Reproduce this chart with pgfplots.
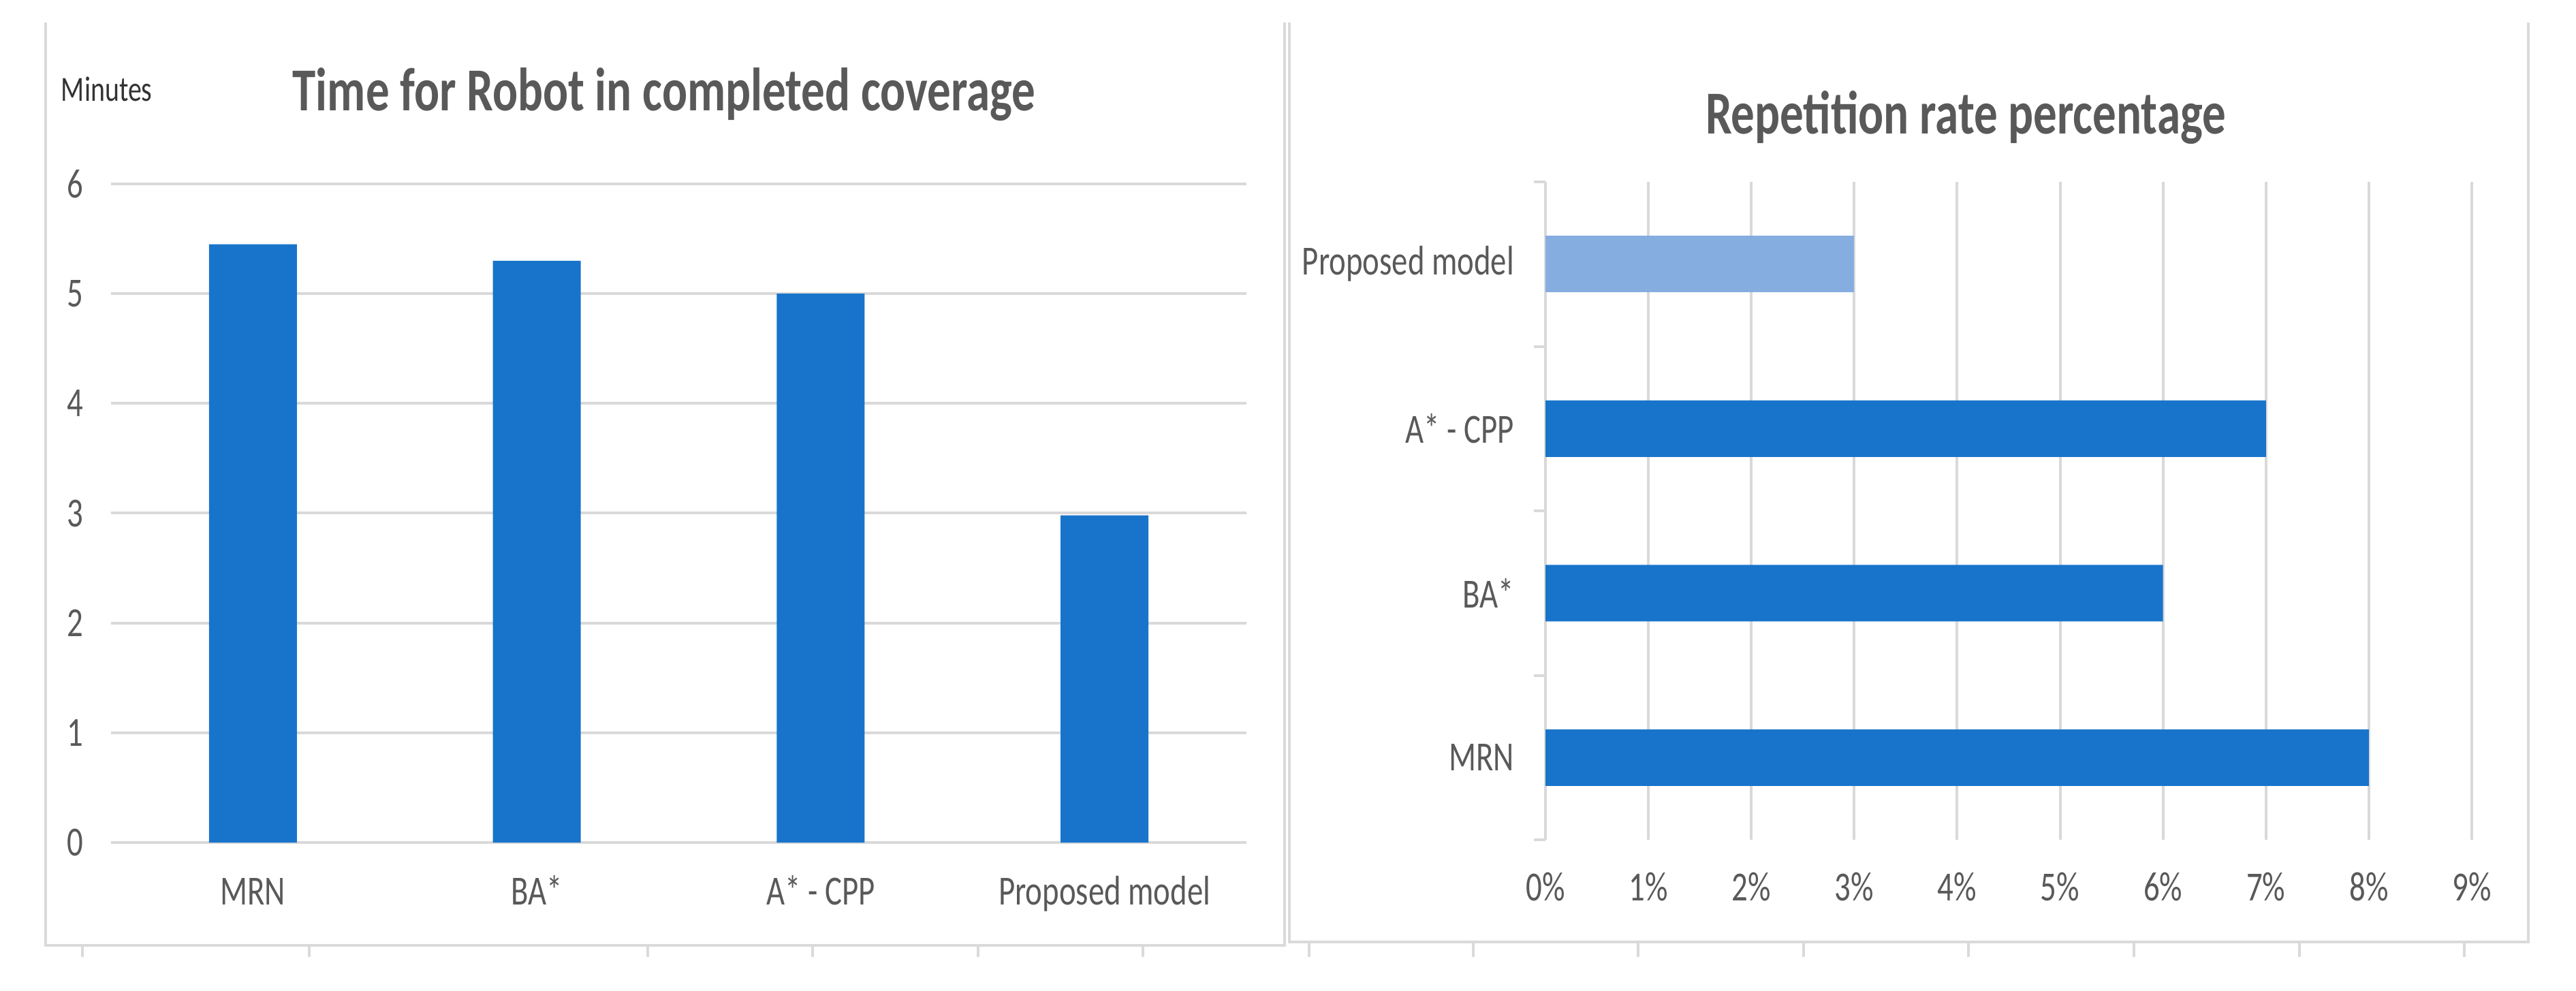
\documentclass[border=0pt]{standalone}
\usepackage{fontspec}
\setmainfont{Carlito}[FakeStretch=0.77]
\usepackage{pgfplots}
\pgfplotsset{compat=1.18}
\definecolor{barblue}{HTML}{1874CA}
\definecolor{barlight}{HTML}{85ADDF}
\definecolor{gridgray}{HTML}{D9D9D9}
\definecolor{txtgray}{HTML}{595959}
\definecolor{framegray}{HTML}{DADADA}
\begin{document}
\begin{tikzpicture}
\useasboundingbox (0,0) rectangle (378.2bp,145.5bp);
% panel frames (screenshot borders)
\draw[framegray, line width=0.45bp] (6.7bp,142.2bp) -- (6.7bp,6.7bp) -- (188.6bp,6.7bp) -- (188.6bp,142.2bp);
\draw[framegray, line width=0.45bp] (189.3bp,142.2bp) -- (189.3bp,7.2bp) -- (371.2bp,7.2bp) -- (371.2bp,142.2bp);
\foreach \x in {12.1,45.4,95.1,119.3,143.6,167.8}{\draw[framegray, line width=0.4bp] (\x bp,6.7bp) -- (\x bp,5.0bp);}
\foreach \x in {192.2,216.3,240.5,264.8,289.0,313.3,337.6,361.8}{\draw[framegray, line width=0.4bp] (\x bp,7.2bp) -- (\x bp,5.0bp);}

% left chart
\begin{axis}[
  at={(16.3bp,21.8bp)}, anchor=south west, scale only axis,
  width=166.7bp, height=96.7bp,
  xmin=-0.5, xmax=3.5, ymin=0, ymax=6,
  ytick={0,1,2,3,4,5,6},
  xtick={0,1,2,3}, xticklabels={MRN,BA*,A* - CPP,Proposed model},
  axis line style={draw=none}, major tick length=0pt,
  ymajorgrids, grid style={gridgray, line width=0.4bp},
  ybar, bar width=12.9bp, bar shift=0pt,
  /pgf/number format/assume math mode=true,
  tick label style={font=\fontsize{6.1}{7}\selectfont, text=txtgray, inner sep=0pt},
  yticklabel style={anchor=center, xshift=-5.3bp},
  xticklabel style={anchor=base, yshift=-9.1bp},
  clip=false,
]
\addplot[fill=barblue, draw=none] coordinates {(0,5.45) (1,5.3) (2,5.0) (3,2.98)};
\end{axis}
\node[anchor=base west, text=black!80, font=\fontsize{5.2}{6}\selectfont, inner sep=0pt] at (8.8bp,130.6bp) {Minutes};
\node[anchor=base, text=txtgray, font=\fontsize{9}{10}\selectfont\bfseries, inner sep=0pt] at (97.5bp,129.2bp) {Time for Robot in completed coverage};

% right chart
\begin{axis}[
  at={(226.9bp,22.2bp)}, anchor=south west, scale only axis,
  width=136bp, height=96.6bp,
  xmin=0, xmax=9, ymin=-0.5, ymax=3.5,
  xtick={0,1,2,3,4,5,6,7,8,9},
  xticklabels={0\%,1\%,2\%,3\%,4\%,5\%,6\%,7\%,8\%,9\%},
  ytick={0,1,2,3}, yticklabels={MRN,BA*,A* - CPP,Proposed model},
  minor ytick={-0.5,0.5,1.5,2.5,3.5},
  separate axis lines,
  x axis line style={draw=none},
  y axis line style={draw=gridgray, line width=0.4bp},
  ytick pos=left, tick align=outside,
  major tick length=0pt, minor tick length=1.7bp,
  tick style={gridgray, line width=0.4bp},
  xmajorgrids, grid style={gridgray, line width=0.4bp},
  xbar, bar width=8.3bp, bar shift=0pt,
  tick label style={font=\fontsize{6.1}{7}\selectfont, text=txtgray, inner sep=0pt},
  yticklabel style={anchor=east, xshift=-4.4bp},
  xticklabel style={anchor=base, yshift=-8.9bp},
  clip=false,
]
\addplot[fill=barblue, draw=none] coordinates {(8,0) (6,1) (7,2)};
\addplot[fill=barlight, draw=none] coordinates {(3,3)};
\end{axis}
\node[anchor=base, text=txtgray, font=\fontsize{9}{10}\selectfont\bfseries, inner sep=0pt] at (288.6bp,125.8bp) {Repetition rate percentage};
\end{tikzpicture}
\end{document}
